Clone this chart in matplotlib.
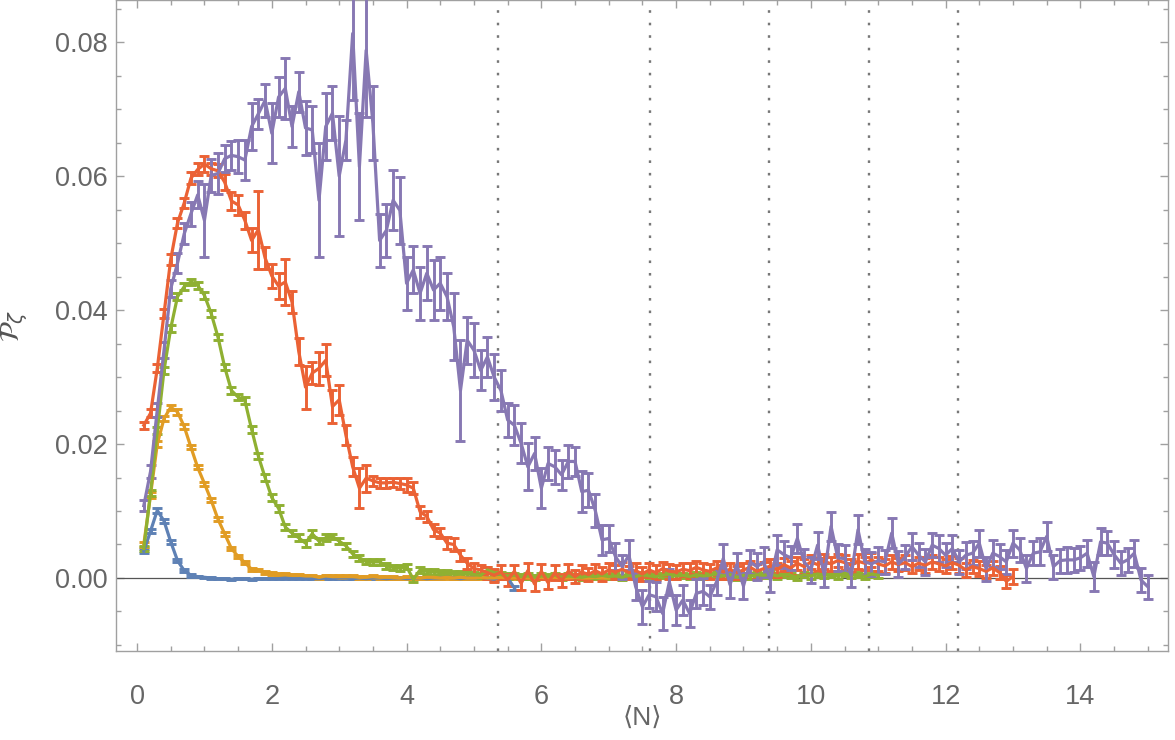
import numpy as np
import matplotlib
matplotlib.use("Agg")
import matplotlib.pyplot as plt
from matplotlib.ticker import MultipleLocator

# colour of each curve (Mathematica default palette)
colors = ["#5E81B5", "#E19C24", "#8FB032", "#EB6235", "#8778B3"]

# values, x step 0.1 starting at 0.1
blue = [0.0040, 0.0070, 0.0101, 0.0085, 0.0054, 0.0026, 0.0011, 0.0004, 0.0002, 0.0001,
        0.0000, -0.0001, -0.0001, -0.0002, -0.0001, -0.0001, -0.0002, -0.0001, -0.0001, -0.0001,
        -0.0001, 0.0000, -0.0001, -0.0001, 0.0000, -0.0001, -0.0001, 0.0000, -0.0001, 0.0000,
        0.0000, -0.0001, 0.0000, -0.0001, 0.0000, 0.0000, -0.0001, 0.0000, 0.0000, -0.0001,
        0.0000, 0.0000, -0.0001, 0.0000, 0.0000, 0.0001, 0.0000, -0.0001, 0.0000, 0.0000,
        0.0001, 0.0000, -0.0002, 0.0003, 0.0000, -0.0015]
blue_err = [0.0003, 0.0003, 0.0004, 0.0003, 0.0003, 0.0002, 0.0002, 0.0002, 0.0001, 0.0001,
            0.0001, 0.0001, 0.0001, 0.0001, 0.0001, 0.0001, 0.0001, 0.0001, 0.0001, 0.0001,
            0.0001, 0.0001, 0.0001, 0.0001, 0.0001, 0.0001, 0.0001, 0.0001, 0.0001, 0.0001,
            0.0001, 0.0001, 0.0001, 0.0001, 0.0001, 0.0001, 0.0001, 0.0001, 0.0001, 0.0001,
            0.0001, 0.0001, 0.0001, 0.0001, 0.0001, 0.0001, 0.0001, 0.0001, 0.0001, 0.0001,
            0.0001, 0.0001, 0.0002, 0.0002, 0.0002, 0.0003]

orange = [0.0050, 0.0124, 0.0200, 0.0238, 0.0255, 0.0248, 0.0226, 0.0195, 0.0165, 0.0141,
          0.0116, 0.0088, 0.0066, 0.0044, 0.0032, 0.0023, 0.0013, 0.0012, 0.0008, 0.0007,
          0.0005, 0.0005, 0.0004, 0.0004, 0.0003, 0.0003, 0.0001, 0.0003, 0.0002, 0.0002,
          0.0002, 0.0002, 0.0001, 0.0001, 0.0002, 0.0001, 0.0001, 0.0001, 0.0000, 0.0001,
          0.0001, 0.0000, 0.0001, 0.0001, 0.0000, 0.0001, 0.0000, 0.0001, 0.0000, 0.0000,
          0.0001, 0.0000, 0.0000, 0.0001, 0.0000, 0.0000, 0.0001, 0.0000, 0.0000, 0.0001,
          0.0000, 0.0001, 0.0000, 0.0000, 0.0001, 0.0000, 0.0000, 0.0001, 0.0000, 0.0000]
orange_err = [0.0003, 0.0004, 0.0004, 0.0004, 0.0004, 0.0004, 0.0004, 0.0003, 0.0003, 0.0003,
              0.0003, 0.0003, 0.0003, 0.0002, 0.0002, 0.0002, 0.0002, 0.0002, 0.0002, 0.0002,
              0.0002, 0.0002, 0.0002, 0.0002, 0.0002, 0.0002, 0.0002, 0.0002, 0.0002, 0.0002,
              0.0002, 0.0002, 0.0002, 0.0002, 0.0002, 0.0002, 0.0002, 0.0002, 0.0002, 0.0002,
              0.0002, 0.0002, 0.0002, 0.0002, 0.0002, 0.0002, 0.0002, 0.0002, 0.0002, 0.0002,
              0.0002, 0.0002, 0.0002, 0.0002, 0.0002, 0.0002, 0.0002, 0.0002, 0.0002, 0.0002,
              0.0002, 0.0002, 0.0002, 0.0002, 0.0002, 0.0002, 0.0002, 0.0002, 0.0002, 0.0002]

green = [0.0044, 0.0127, 0.0220, 0.0310, 0.0373, 0.0420, 0.0435, 0.0442, 0.0437, 0.0422,
         0.0395, 0.0360, 0.0315, 0.0280, 0.0270, 0.0265, 0.0222, 0.0182, 0.0150, 0.0120,
         0.0104, 0.0076, 0.0067, 0.0060, 0.0052, 0.0066, 0.0055, 0.0060, 0.0062, 0.0055,
         0.0048, 0.0036, 0.0030, 0.0025, 0.0024, 0.0024, 0.0018, 0.0016, 0.0015, 0.0017,
         -0.0002, 0.0012, 0.0010, 0.0009, 0.0008, 0.0008, 0.0006, 0.0007, 0.0006, 0.0005,
         0.0004, 0.0012, 0.0008, 0.0005, 0.0003, 0.0004, 0.0002, 0.0003, 0.0001, 0.0003,
         0.0002, 0.0004, 0.0001, 0.0003, 0.0002, 0.0001, 0.0003, 0.0002, 0.0004, 0.0002,
         0.0003, 0.0001, 0.0004, 0.0002, 0.0005, 0.0003, 0.0002, 0.0004, 0.0006, 0.0003,
         0.0004, 0.0002, 0.0005, 0.0003, 0.0004, 0.0006, 0.0003, 0.0005, 0.0001, 0.0004,
         0.0003, 0.0005, 0.0004, 0.0006, 0.0003, 0.0005, 0.0004, 0.0001, 0.0005, 0.0003,
         0.0006, 0.0004, 0.0005, 0.0003, 0.0007, 0.0004, 0.0005, 0.0002, 0.0006, 0.0004]
green_err = [0.0004, 0.0004, 0.0005, 0.0005, 0.0005, 0.0005, 0.0005, 0.0005, 0.0005, 0.0005,
             0.0005, 0.0005, 0.0005, 0.0005, 0.0005, 0.0005, 0.0005, 0.0005, 0.0005, 0.0005,
             0.0005, 0.0005, 0.0005, 0.0005, 0.0005, 0.0005, 0.0005, 0.0005, 0.0004, 0.0004,
             0.0004, 0.0004, 0.0004, 0.0004, 0.0004, 0.0004, 0.0004, 0.0004, 0.0004, 0.0004,
             0.0004, 0.0004, 0.0004, 0.0004, 0.0004, 0.0004, 0.0004, 0.0004, 0.0004, 0.0004,
             0.0004, 0.0004, 0.0004, 0.0004, 0.0004, 0.0004, 0.0004, 0.0004, 0.0004, 0.0004,
             0.0004, 0.0004, 0.0004, 0.0004, 0.0004, 0.0004, 0.0004, 0.0004, 0.0004, 0.0004,
             0.0004, 0.0004, 0.0004, 0.0004, 0.0004, 0.0004, 0.0004, 0.0004, 0.0004, 0.0004,
             0.0004, 0.0004, 0.0004, 0.0004, 0.0004, 0.0004, 0.0004, 0.0004, 0.0004, 0.0004,
             0.0004, 0.0004, 0.0004, 0.0004, 0.0004, 0.0004, 0.0004, 0.0004, 0.0004, 0.0004,
             0.0004, 0.0004, 0.0004, 0.0004, 0.0004, 0.0004, 0.0004, 0.0004, 0.0004, 0.0004]

red = [0.0228, 0.0246, 0.0313, 0.0395, 0.0476, 0.0530, 0.0560, 0.0597, 0.0610, 0.0618,
       0.0611, 0.0608, 0.0591, 0.0563, 0.0557, 0.0534, 0.0504, 0.0520, 0.0478, 0.0451,
       0.0436, 0.0442, 0.0412, 0.0338, 0.0285, 0.0306, 0.0313, 0.0325, 0.0256, 0.0266,
       0.0213, 0.0166, 0.0134, 0.0149, 0.0145, 0.0142, 0.0142, 0.0143, 0.0141, 0.0139,
       0.0134, 0.0099, 0.0092, 0.0072, 0.0067, 0.0052, 0.0050, 0.0034, 0.0022, 0.0014,
       0.0012, 0.0008, 0.0004, 0.0009, -0.0003, 0.0010, -0.0008, 0.0011, -0.0009, 0.0010,
       -0.0007, 0.0008, -0.0004, 0.0010, 0.0002, 0.0009, 0.0005, 0.0011, 0.0006, 0.0012,
       0.0009, 0.0013, 0.0008, 0.0011, 0.0006, 0.0012, 0.0008, 0.0014, 0.0010, 0.0009,
       0.0013, 0.0011, 0.0016, 0.0012, 0.0010, 0.0015, 0.0009, 0.0013, 0.0008, 0.0012,
       0.0016, 0.0010, 0.0014, 0.0018, 0.0012, 0.0020, 0.0015, 0.0022, 0.0017, 0.0024,
       0.0020, 0.0025, 0.0021, 0.0026, 0.0023, 0.0019, 0.0025, 0.0022, 0.0027, 0.0021,
       0.0018, 0.0024, 0.0020, 0.0023, 0.0017, 0.0022, 0.0019, 0.0024, 0.0021, 0.0018,
       0.0023, 0.0019, 0.0012, 0.0017, 0.0014, 0.0010, 0.0015, 0.0008, -0.0005, 0.0002]
red_err = [0.0005, 0.0006, 0.0006, 0.0007, 0.0008, 0.0008, 0.0008, 0.0009, 0.0009, 0.0012,
           0.0009, 0.0010, 0.0012, 0.0013, 0.0015, 0.0013, 0.0018, 0.0058, 0.0016, 0.0018,
           0.0020, 0.0034, 0.0017, 0.0020, 0.0032, 0.0016, 0.0025, 0.0024, 0.0024, 0.0022,
           0.0015, 0.0014, 0.0030, 0.0020, 0.0008, 0.0007, 0.0007, 0.0007, 0.0008, 0.0010,
           0.0009, 0.0009, 0.0008, 0.0009, 0.0008, 0.0009, 0.0009, 0.0008, 0.0008, 0.0008,
           0.0008, 0.0009, 0.0010, 0.0010, 0.0009, 0.0010, 0.0010, 0.0011, 0.0010, 0.0011,
           0.0010, 0.0011, 0.0010, 0.0011, 0.0010, 0.0011, 0.0010, 0.0010, 0.0011, 0.0010,
           0.0010, 0.0011, 0.0010, 0.0011, 0.0010, 0.0010, 0.0011, 0.0010, 0.0011, 0.0010,
           0.0010, 0.0011, 0.0010, 0.0010, 0.0011, 0.0010, 0.0011, 0.0010, 0.0010, 0.0011,
           0.0010, 0.0011, 0.0010, 0.0011, 0.0010, 0.0010, 0.0011, 0.0010, 0.0011, 0.0010,
           0.0010, 0.0011, 0.0010, 0.0010, 0.0011, 0.0010, 0.0011, 0.0010, 0.0010, 0.0011,
           0.0010, 0.0011, 0.0010, 0.0011, 0.0010, 0.0010, 0.0011, 0.0010, 0.0011, 0.0010,
           0.0010, 0.0011, 0.0010, 0.0010, 0.0011, 0.0010, 0.0011, 0.0010, 0.0010, 0.0011]

purple = [0.0108, 0.0159, 0.0251, 0.0340, 0.0432, 0.0470, 0.0514, 0.0544, 0.0572, 0.0534,
          0.0601, 0.0604, 0.0626, 0.0631, 0.0629, 0.0624, 0.0674, 0.0693, 0.0713, 0.0664,
          0.0718, 0.0731, 0.0674, 0.0726, 0.0672, 0.0669, 0.0564, 0.0674, 0.0694, 0.0600,
          0.0654, 0.0813, 0.0614, 0.0788, 0.0679, 0.0504, 0.0519, 0.0564, 0.0549, 0.0440,
          0.0460, 0.0425, 0.0455, 0.0430, 0.0440, 0.0420, 0.0375, 0.0280, 0.0355, 0.0340,
          0.0310, 0.0330, 0.0300, 0.0280, 0.0236, 0.0228, 0.0201, 0.0166, 0.0186, 0.0134,
          0.0171, 0.0166, 0.0154, 0.0174, 0.0174, 0.0129, 0.0131, 0.0101, 0.0057, 0.0059,
          0.0032, 0.0017, 0.0034, -0.0013, -0.0043, -0.0025, -0.0028, -0.0053, -0.0006, -0.0048,
          -0.0033, -0.0053, -0.0023, -0.0020, -0.0028, -0.0006, 0.0029, -0.0010, 0.0020, -0.0012,
          0.0024, 0.0017, 0.0024, -0.0003, 0.0042, 0.0035, 0.0030, 0.0059, 0.0024, 0.0012,
          0.0049, 0.0004, 0.0077, 0.0030, 0.0029, 0.0004, 0.0072, 0.0024, 0.0021, 0.0026,
          0.0024, 0.0067, 0.0021, 0.0031, 0.0047, 0.0034, 0.0024, 0.0049, 0.0044, 0.0034,
          0.0044, 0.0024, 0.0034, 0.0037, 0.0052, 0.0014, 0.0037, 0.0032, 0.0024, 0.0052,
          0.0042, 0.0014, 0.0037, 0.0039, 0.0062, 0.0017, 0.0026, 0.0027, 0.0027, 0.0030,
          0.0037, 0.0002, 0.0054, 0.0052, 0.0035, 0.0022, 0.0027, 0.0037, -0.0003, -0.0013]
purple_err = [0.0008, 0.0009, 0.0010, 0.0012, 0.0013, 0.0015, 0.0016, 0.0018, 0.0020, 0.0055,
              0.0025, 0.0030, 0.0020, 0.0022, 0.0025, 0.0030, 0.0035, 0.0022, 0.0025, 0.0045,
              0.0030, 0.0045, 0.0030, 0.0030, 0.0040, 0.0035, 0.0085, 0.0050, 0.0040, 0.0090,
              0.0030, 0.0100, 0.0080, 0.0100, 0.0055, 0.0040, 0.0040, 0.0045, 0.0050, 0.0040,
              0.0035, 0.0040, 0.0040, 0.0045, 0.0040, 0.0035, 0.0050, 0.0075, 0.0035, 0.0040,
              0.0030, 0.0030, 0.0035, 0.0030, 0.0025, 0.0030, 0.0030, 0.0035, 0.0025, 0.0030,
              0.0025, 0.0025, 0.0022, 0.0025, 0.0022, 0.0030, 0.0025, 0.0025, 0.0022, 0.0020,
              0.0020, 0.0018, 0.0022, 0.0020, 0.0025, 0.0020, 0.0022, 0.0025, 0.0020, 0.0022,
              0.0022, 0.0020, 0.0022, 0.0020, 0.0018, 0.0020, 0.0022, 0.0020, 0.0018, 0.0020,
              0.0018, 0.0020, 0.0022, 0.0018, 0.0022, 0.0020, 0.0018, 0.0022, 0.0020, 0.0020,
              0.0020, 0.0018, 0.0022, 0.0020, 0.0020, 0.0018, 0.0022, 0.0020, 0.0018, 0.0020,
              0.0018, 0.0022, 0.0020, 0.0018, 0.0020, 0.0018, 0.0020, 0.0018, 0.0020, 0.0018,
              0.0020, 0.0018, 0.0020, 0.0018, 0.0020, 0.0018, 0.0020, 0.0018, 0.0018, 0.0020,
              0.0018, 0.0020, 0.0018, 0.0020, 0.0022, 0.0018, 0.0018, 0.0020, 0.0018, 0.0018,
              0.0020, 0.0022, 0.0020, 0.0018, 0.0020, 0.0018, 0.0018, 0.0020, 0.0018, 0.0018]

# vertical dotted markers
vlines = [5.35, 7.62, 9.38, 10.86, 12.19]

series = [(blue, blue_err), (orange, orange_err), (green, green_err),
          (red, red_err), (purple, purple_err)]

fig = plt.figure(figsize=(11.75, 7.4), dpi=100)
ax = fig.add_axes([0.0987, 0.1203, 0.8953, 0.8797])

for (vals, errs), c in zip(series, colors):
    x = np.round(np.arange(1, len(vals) + 1) * 0.1, 1)
    ax.errorbar(x, vals, yerr=errs, color=c, lw=2.3, elinewidth=2.1,
                capsize=3.4, capthick=2.1, zorder=3)

ax.axhline(0, color="#555555", lw=0.9, zorder=2)
for v in vlines:
    ax.axvline(v, color="#777777", lw=1.7, linestyle=(0, (1.1, 4.2)), zorder=1)

ax.set_xlim(-0.313, 15.3)
ax.set_ylim(-0.0109, 0.0863)

ax.xaxis.set_major_locator(MultipleLocator(2))
ax.xaxis.set_minor_locator(MultipleLocator(0.5))
ax.yaxis.set_major_locator(MultipleLocator(0.02))
ax.yaxis.set_minor_locator(MultipleLocator(0.005))
ax.yaxis.set_major_formatter(plt.FormatStrFormatter("%.2f"))

for s in ax.spines.values():
    s.set_color("#a0a0a0")
    s.set_linewidth(1.0)

ax.tick_params(which="both", direction="in", top=True, right=True,
               colors="#a0a0a0", labelcolor="#666666", width=1.0)
ax.tick_params(which="major", length=6)
ax.tick_params(which="minor", length=3.5)
ax.tick_params(axis="x", pad=24)
ax.tick_params(axis="y", pad=6)
for lab in ax.get_xticklabels() + ax.get_yticklabels():
    lab.set_fontfamily(["Liberation Sans", "DejaVu Sans"])
    lab.set_fontsize(19.5)

# axis titles placed in figure pixels
fig.text(642 / 1175, 1 - 718 / 740, "⟨N⟩", fontsize=19, color="#666666",
         ha="center", va="center", family=["Liberation Sans", "DejaVu Sans"])
ax.set_ylabel(r"$\mathcal{P}_\zeta$", fontsize=20, color="#555555")
ax.yaxis.set_label_coords(-0.082, 0.5)

fig.savefig("out.png", dpi=100)
